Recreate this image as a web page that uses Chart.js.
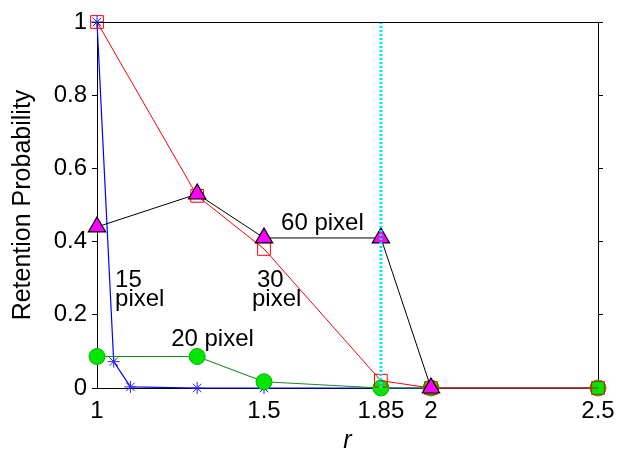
<!DOCTYPE html>
<html>
<head>
<meta charset="utf-8">
<script src="https://cdn.jsdelivr.net/npm/chart.js@4/dist/chart.umd.min.js"></script>
<style>
  html, body { margin: 0; padding: 0; background: #fff; }
  #wrap { width: 618px; height: 456px; }
</style>
</head>
<body>
<div id="wrap"><canvas id="c" width="618" height="456"></canvas></div>
<script>
// Retention probability versus r for four window sizes
const r15 = [1, 1.05, 1.1, 1.3, 1.5, 1.85, 2, 2.5];
const p15 = [1.0, 0.072, 0.003, 0.0, 0.0, 0.0, 0.0, 0.0];

const rCommon = [1, 1.3, 1.5, 1.85, 2, 2.5];
const p20 = [0.086, 0.086, 0.017, 0.0, 0.0, 0.0];
const p30 = [1.0, 0.525, 0.38, 0.02, 0.0, 0.0];

const r60 = [1, 1.3, 1.5, 1.85, 2];
const p60 = [0.44, 0.53, 0.41, 0.41, 0.0];

const rCutoff = 1.85;
const xTicks = [1, 1.5, 1.85, 2, 2.5];
const yTicks = [0, 0.2, 0.4, 0.6, 0.8, 1];

const FONT = "'Liberation Sans', Arial, sans-serif";

const toPoints = (xs, ys) => xs.map((x, i) => ({ x: x, y: ys[i] }));

// in-plot labels, placed in data coordinates
const seriesLabels = [
  { text: '15',       r: 1.054, p: 0.276 },
  { text: 'pixel',    r: 1.054, p: 0.223 },
  { text: '30',       r: 1.479, p: 0.276 },
  { text: 'pixel',    r: 1.464, p: 0.223 },
  { text: '20 pixel', r: 1.222, p: 0.115 },
  { text: '60 pixel', r: 1.551, p: 0.432 }
];

const labelPlugin = {
  id: 'seriesLabels',
  afterDatasetsDraw(chart) {
    const { ctx, scales } = chart;
    ctx.save();
    ctx.fillStyle = '#000';
    ctx.font = '24px ' + FONT;
    ctx.textAlign = 'left';
    ctx.textBaseline = 'alphabetic';
    seriesLabels.forEach(l => {
      ctx.fillText(l.text, scales.x.getPixelForValue(l.r), scales.y.getPixelForValue(l.p));
    });
    ctx.restore();
  }
};

// top edge of the axes box
const framePlugin = {
  id: 'frame',
  afterDraw(chart) {
    const { ctx, chartArea } = chart;
    ctx.save();
    ctx.strokeStyle = '#000';
    ctx.lineWidth = 1;
    ctx.beginPath();
    ctx.moveTo(chartArea.left, chartArea.top + 0.5);
    ctx.lineTo(chartArea.right + 4, chartArea.top + 0.5);
    ctx.stroke();
    ctx.restore();
  }
};

const fixedTicks = vals => scale => { scale.ticks = vals.map(v => ({ value: v })); };

new Chart(document.getElementById('c'), {
  type: 'line',
  data: {
    datasets: [
      {
        label: 'cutoff',
        data: [{ x: rCutoff, y: 0 }, { x: rCutoff, y: 1 }],
        borderColor: '#00e8ff',
        borderWidth: 3,
        borderDash: [2, 2],
        pointRadius: 0
      },
      {
        label: '60 pixel',
        data: toPoints(r60, p60),
        borderColor: '#000',
        borderWidth: 1,
        pointStyle: 'triangle',
        pointRadius: 10,
        pointBackgroundColor: '#ff00ff',
        pointBorderColor: '#000',
        pointBorderWidth: 1.2
      },
      {
        label: '30 pixel',
        data: toPoints(rCommon, p30),
        borderColor: '#ff0000',
        borderWidth: 1,
        pointStyle: 'rect',
        pointRadius: 9,
        pointBackgroundColor: 'rgba(0,0,0,0)',
        pointBorderColor: '#ff0000',
        pointBorderWidth: 1
      },
      {
        label: '20 pixel',
        data: toPoints(rCommon, p20),
        borderColor: '#1f8a1f',
        borderWidth: 1.2,
        pointStyle: 'circle',
        pointRadius: 8,
        pointBackgroundColor: '#00e600',
        pointBorderColor: '#00b400',
        pointBorderWidth: 1
      },
      {
        label: '15 pixel',
        data: toPoints(r15, p15),
        borderColor: '#0000ff',
        borderWidth: 1.2,
        pointStyle: 'star',
        pointRadius: 6,
        pointBorderColor: '#2020ff',
        pointBorderWidth: 1
      }
    ]
  },
  options: {
    responsive: false,
    animation: false,
    events: [],
    clip: false,
    layout: { padding: { top: 22, left: 8, right: 0, bottom: 0 } },
    plugins: { legend: { display: false }, tooltip: { enabled: false } },
    elements: { line: { tension: 0 } },
    scales: {
      x: {
        type: 'linear',
        min: 1,
        max: 2.5,
        afterBuildTicks: fixedTicks(xTicks),
        afterFit: s => { s.height = 68; },
        ticks: {
          color: '#000',
          font: { family: FONT, size: 24 },
          padding: 1,
          maxRotation: 0,
          autoSkip: false,
          callback: v => String(v)
        },
        grid: { display: false },
        border: { display: true, color: '#000', width: 1 },
        title: {
          display: true,
          text: 'r',
          color: '#000',
          font: { family: FONT, size: 25, style: 'italic' },
          padding: { top: 0, bottom: 0 }
        }
      },
      y: {
        type: 'linear',
        min: 0,
        max: 1,
        afterBuildTicks: fixedTicks(yTicks),
        afterFit: s => { s.width = 89; },
        ticks: {
          color: '#000',
          font: { family: FONT, size: 24 },
          padding: 5,
          callback: v => String(v)
        },
        grid: { drawOnChartArea: false, drawTicks: true, tickLength: 5, color: '#000' },
        border: { display: true, color: '#000', width: 1 },
        title: {
          display: true,
          text: 'Retention Probability',
          color: '#000',
          font: { family: FONT, size: 25 },
          padding: { top: 0, bottom: 4 }
        }
      },
      y2: {
        type: 'linear',
        position: 'right',
        min: 0,
        max: 1,
        afterBuildTicks: fixedTicks(yTicks),
        afterFit: s => { s.width = 20; },
        ticks: { display: false },
        grid: { drawOnChartArea: false, drawTicks: true, tickLength: 5, color: '#000' },
        border: { display: true, color: '#000', width: 1 }
      }
    }
  },
  plugins: [labelPlugin, framePlugin]
});
</script>
</body>
</html>
